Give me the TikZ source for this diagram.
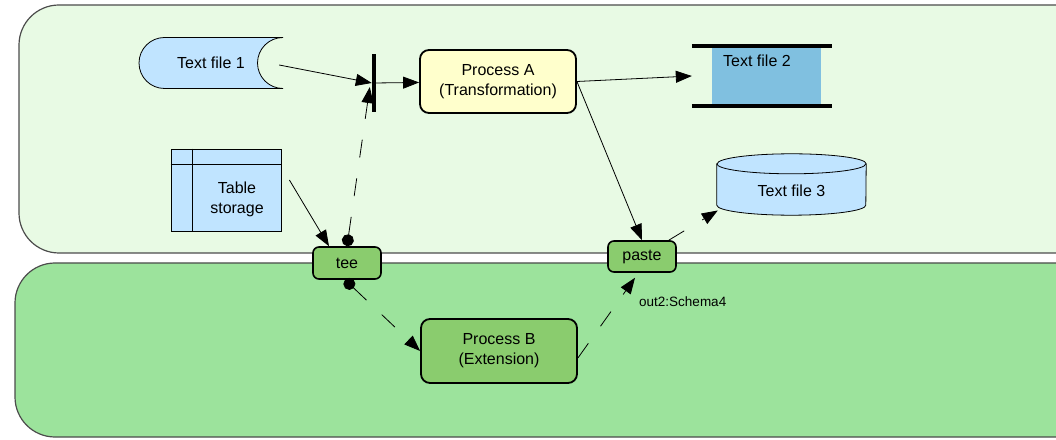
\documentclass[tikz,border=0pt]{standalone}
\usepackage{fontspec}
\setmainfont{Liberation Sans}
\usetikzlibrary{arrows.meta}
\definecolor{panelTop}{RGB}{232,250,228}
\definecolor{panelBot}{RGB}{156,227,156}
\definecolor{fileBlue}{RGB}{192,228,255}
\definecolor{fileDark}{RGB}{128,192,224}
\definecolor{procYel}{RGB}{255,255,204}
\definecolor{procGrn}{RGB}{138,204,110}

\begin{document}
\begin{tikzpicture}[x=1pt,y=1pt]
\tikzstyle{every node}+=[font=\fontsize{16}{20}\selectfont]
\tikzstyle{proc}=[draw,line width=1.8pt,rounded corners=9pt,align=center,inner sep=0pt]
\tikzstyle{op}=[draw,line width=1.6pt,rounded corners=6pt,inner sep=0pt,fill=procGrn,minimum width=68pt,minimum height=32pt]
\tikzstyle{flow}=[line width=0.8pt,-{Triangle[length=16pt,width=12pt]}]
\tikzstyle{dataflow}=[flow,dash pattern=on 18pt off 21pt]
\tikzstyle{dotflow}=[dataflow,{Circle[length=12pt]}-{Triangle[length=16pt,width=12pt]}]
\tikzstyle{panel}=[draw=black!70,line width=1.2pt,rounded corners=40pt]
\useasboundingbox (0,0) rectangle (1056,439);
\clip (0,0) rectangle (1056,439);
% lanes
\draw[panel,fill=panelTop] (19,186) rectangle (1100,434);
\draw[panel,fill=panelBot] (15,2) rectangle (1100,176);
% Text file 1
\draw[fill=fileBlue,line width=0.8pt] (283,401.5) -- (164.5,401.5) arc[start angle=90,end angle=270,radius=25.5] -- (283,350.5) arc[start angle=270,end angle=90,radius=25.5];
\node[minimum width=144pt,minimum height=51pt,inner sep=0pt] (txt1) at (211,376.5) {Text file 1};
\node[fill=black,minimum width=4pt,minimum height=58pt,inner sep=0pt] (bar) at (374,356) {};
\node[proc,fill=procYel,minimum width=156pt,minimum height=63pt] (procA) at (498,357.5) {Process A\\(Transformation)};
% Text file 2
\node[minimum width=140pt,minimum height=60pt,inner sep=0pt] (txt2) at (762,363) {};
\fill[fileDark] ([xshift=20pt]txt2.north west) rectangle ([xshift=-11pt]txt2.south east);
\draw[line width=4pt] (txt2.north west) -- (txt2.north east);
\draw[line width=4pt] (txt2.south west) -- (txt2.south east);
\node[anchor=north,inner sep=0pt] (txt2lbl) at ([xshift=-5pt,yshift=-9pt]txt2.north) {Text file 2};
% Text file 3
\node[minimum width=149pt,minimum height=61pt,inner sep=0pt] (txt3) at (791.5,254.5) {};
\draw[fill=fileBlue,line width=0.8pt] ([yshift=-10pt]txt3.north west) -- ([yshift=10pt]txt3.south west) arc[start angle=180,end angle=360,x radius=74.5pt,y radius=10pt] -- ([yshift=-10pt]txt3.north east) arc[start angle=0,end angle=180,x radius=74.5pt,y radius=10pt] -- cycle;
\draw[line width=0.8pt] ([yshift=-10pt]txt3.north west) arc[start angle=180,end angle=360,x radius=74.5pt,y radius=10pt];
\node (txt3lbl) at ([yshift=-6.5pt]txt3.center) {Text file 3};
% Table storage
\node[draw,fill=fileBlue,line width=0.8pt,minimum width=110pt,minimum height=82pt,inner sep=0pt] (tab) at (226,249) {};
\draw[line width=0.8pt] ([xshift=22pt]tab.north west) -- ([xshift=22pt]tab.south west);
\draw[line width=0.8pt] ([yshift=-16pt]tab.north west) -- ([yshift=-16pt]tab.north east);
\node[align=center,inner sep=0pt] (tablbl) at ([xshift=11pt,yshift=-9pt]tab.center) {Table\\storage};
\node[op] (tee) at (347,176) {tee};
\node[op,minimum height=31pt] (paste) at (642,182.5) {paste};
\node[proc,fill=procGrn,minimum width=156pt,minimum height=64pt] (procB) at (499,88) {Process B\\(Extension)};
\node[anchor=west,inner sep=0pt,font=\fontsize{13.5}{16}\selectfont] (schema) at (639,137) {out2:Schema4};
% flows
\draw[flow] ([xshift=-4pt,yshift=-2.5pt]txt1.east) -- (bar.west);
\draw[flow] (bar) -- (procA);
\draw[flow] (procA.east) -- (txt2.west);
\draw[flow] (procA.east) -- (paste.north);
\draw[flow] ([xshift=8pt,yshift=10pt]tab.east) -- ([xshift=-18pt]tee.north);
\draw[dotflow] (tee.north) -- ([xshift=-2pt,yshift=-4pt]bar.west);
\draw[dotflow] ([xshift=-2pt]tee.south) -- (procB.west);
\draw[dataflow] ([yshift=-7pt]procB.east) -- ([xshift=-7pt,yshift=-5pt]paste.south);
\draw[dataflow] ([xshift=-8pt]paste.north east) -- ([xshift=1pt,yshift=-26pt]txt3.west);
\end{tikzpicture}
\end{document}
